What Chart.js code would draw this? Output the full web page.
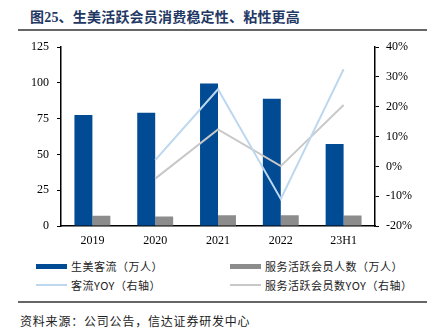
<!DOCTYPE html>
<html>
<head>
<meta charset="utf-8">
<script src="https://cdn.jsdelivr.net/npm/chart.js@4.4.0/dist/chart.umd.min.js"></script>
<style>
  body { margin: 0; width: 427px; height: 334px; background: #fff; position: relative; overflow: hidden;
         font-family: "Noto Sans CJK SC", "Liberation Serif", serif; }
  #title { position: absolute; left: 30px; top: 6px; font-size: 14px; font-weight: bold; color: #1f3864;
           font-family: "Liberation Serif", "Noto Sans CJK SC", serif; letter-spacing: 0.2px; }
  #title span { font-family: "Noto Sans CJK SC", sans-serif; }
  .rule { position: absolute; left: 18px; right: 0; height: 2px; background: #666; }
  #wrap { position: absolute; left: 0; top: 32px; width: 427px; height: 218px; }
  .leg { position: absolute; font-size: 11px; color: #222; display: flex; align-items: center; letter-spacing: 0.5px; }
  .leg i { display: inline-block; width: 31px; margin-right: 4px; }
  #src { position: absolute; left: 20px; top: 312px; font-size: 12px; color: #222; letter-spacing: 0.8px; }
</style>
</head>
<body>
<div id="title">图25、<span>生美活跃会员消费稳定性、粘性更高</span></div>
<div class="rule" style="top:29px"></div>
<div id="wrap"><canvas id="c"></canvas></div>
<div class="leg" style="left:36px;top:258px"><i style="height:5px;background:#004b93"></i>生美客流（万人）</div>
<div class="leg" style="left:230px;top:258px"><i style="height:5px;background:#8c8c8c"></i>服务活跃会员人数（万人）</div>
<div class="leg" style="left:36px;top:277px"><i style="height:2px;background:#bdd7ee"></i>客流YOY（右轴）</div>
<div class="leg" style="left:230px;top:277px"><i style="height:2px;background:#c8c8c8"></i>服务活跃会员数YOY（右轴）</div>
<div class="rule" style="top:301px"></div>
<div id="src">资料来源：公司公告，信达证券研发中心</div>
<script>
var labels = ['2019', '2020', '2021', '2022', '23H1'];
var traffic = [77.6, 79.2, 99.7, 88.9, 57.3];
var members = [7.2, 6.7, 7.6, 7.6, 7.4];
var trafficYoy = [null, 2.1, 25.9, -10.9, 32.6];
var memberYoy = [null, -4.1, 12.4, 0.1, 20.6];

var tickFont = { family: 'Liberation Serif', size: 12 };
window.addEventListener('load', function () {
  var ctx = document.getElementById('c');
  new Chart(ctx, {
    data: {
      labels: labels,
      datasets: [
        { type: 'line', label: '客流YOY（右轴）', data: trafficYoy, yAxisID: 'y1',
          borderColor: '#bdd7ee', borderWidth: 2, pointRadius: 0, tension: 0, order: 0 },
        { type: 'line', label: '服务活跃会员数YOY（右轴）', data: memberYoy, yAxisID: 'y1',
          borderColor: '#c8c8c8', borderWidth: 2, pointRadius: 0, tension: 0, order: 0 },
        { type: 'bar', label: '生美客流（万人）', data: traffic, yAxisID: 'y',
          backgroundColor: '#004b93', order: 1 },
        { type: 'bar', label: '服务活跃会员人数（万人）', data: members, yAxisID: 'y',
          backgroundColor: '#8c8c8c', order: 1 }
      ]
    },
    options: {
      responsive: true, maintainAspectRatio: false, animation: false,
      layout: { padding: { top: 2, left: 0, right: 0, bottom: 0 } },
      datasets: { bar: { categoryPercentage: 0.572, barPercentage: 1 } },
      plugins: { legend: { display: false }, tooltip: { enabled: false } },
      scales: {
        x: {
          grid: { display: false, drawTicks: false },
          border: { color: '#000', width: 1.5 },
          ticks: { color: '#000', font: tickFont, padding: 8 },
          afterFit: function (s) { s.height = 24; }
        },
        y: {
          position: 'left', min: 0, max: 125,
          ticks: { stepSize: 25, color: '#000', font: tickFont, padding: 8 },
          grid: { drawOnChartArea: false, color: '#000', tickLength: 4 },
          border: { color: '#000', width: 1.5 },
          afterFit: function (s) { s.width = 61; }
        },
        y1: {
          position: 'right', min: -20, max: 40,
          ticks: { stepSize: 10, color: '#000', font: tickFont, padding: 7,
                   callback: function (v) { return v + '%'; } },
          grid: { drawOnChartArea: false, color: '#000', tickLength: 4 },
          border: { color: '#000', width: 1.5 },
          afterFit: function (s) { s.width = 52; }
        }
      }
    }
  });
});
</script>
</body>
</html>
